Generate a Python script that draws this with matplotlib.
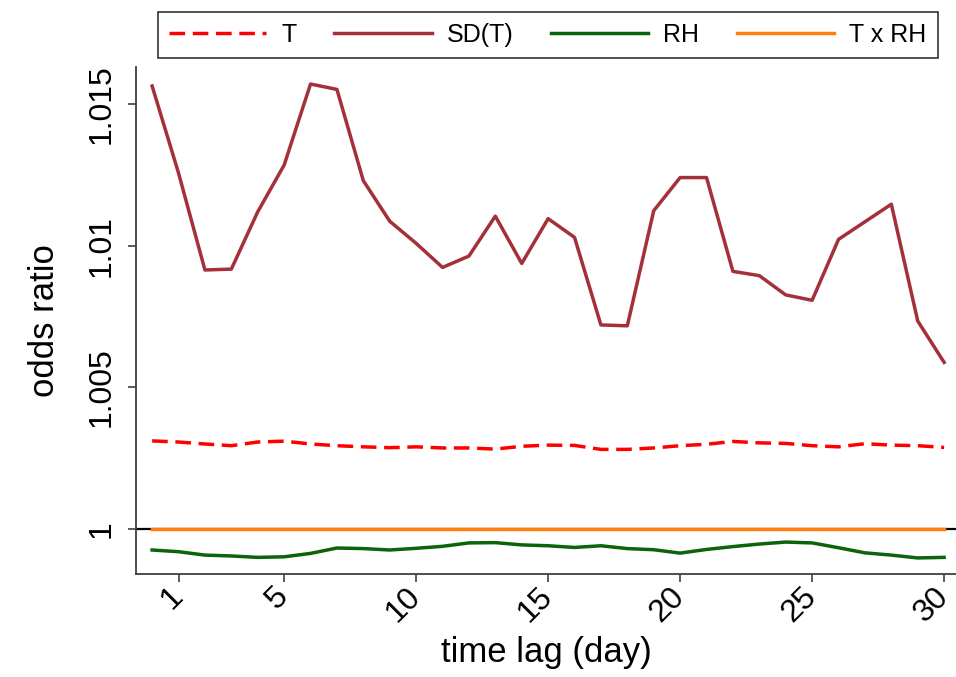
import matplotlib
matplotlib.use("Agg")
import matplotlib.pyplot as plt

plt.rcParams['font.family'] = ['Liberation Sans', 'DejaVu Sans']

lags = list(range(0, 31))
T = [1.00311, 1.00307, 1.00300, 1.00294, 1.00307, 1.00310, 1.00300, 1.00294, 1.00290, 1.00287,
     1.00290, 1.00286, 1.00286, 1.00282, 1.00292, 1.00296, 1.00295, 1.00281, 1.00281, 1.00286,
     1.00294, 1.00299, 1.00309, 1.00304, 1.00302, 1.00294, 1.00290, 1.00301, 1.00296, 1.00294,
     1.00288]
SD_T = [1.01563, 1.01256, 1.00914, 1.00917, 1.01119, 1.01284, 1.01570, 1.01551, 1.01229, 1.01086,
        1.01008, 1.00923, 1.00963, 1.01104, 1.00937, 1.01095, 1.01029, 1.00720, 1.00717, 1.01123,
        1.01240, 1.01240, 1.00909, 1.00894, 1.00826, 1.00807, 1.01022, 1.01084, 1.01146, 1.00734,
        1.00588]
RH = [0.99926, 0.99920, 0.99908, 0.99905, 0.99900, 0.99902, 0.99914, 0.99933, 0.99931, 0.99926,
      0.99932, 0.99939, 0.99951, 0.99952, 0.99944, 0.99941, 0.99935, 0.99941, 0.99931, 0.99927,
      0.99915, 0.99928, 0.99938, 0.99947, 0.99954, 0.99951, 0.99934, 0.99916, 0.99908, 0.99898,
      0.99900]
TxRH = [1.0] * 31

xticks = [1, 5, 10, 15, 20, 25, 30]
yticks = [1.0, 1.005, 1.01, 1.015]
ytick_labels = ["1", "1.005", "1.01", "1.015"]
series_labels = ["T", "SD(T)", "RH", "T x RH"]

fig = plt.figure(figsize=(9.56, 6.77), dpi=100)
ax = fig.add_axes([0.142, 0.152, 0.858, 0.749])

ax.axhline(1.0, color='black', lw=1.6, zorder=1)
l1, = ax.plot(lags, T, color='#ff0000', lw=2.5, linestyle=(0, (4.5, 2.2)), zorder=3)
l2, = ax.plot(lags, SD_T, color='#a3303a', lw=2.5, zorder=3)
l3, = ax.plot(lags, RH, color='#0a640a', lw=2.5, zorder=3)
l4, = ax.plot(lags, TxRH, color='#ff8010', lw=2.5, zorder=2)

ax.set_xlim(-0.62, 30.45)
ax.set_ylim(0.99841, 1.0163)

ax.set_xticks(xticks)
ax.set_xticklabels([str(x) for x in xticks], rotation=45, ha='right', va='center',
                   rotation_mode='anchor', fontsize=23)
ax.set_yticks(yticks)
ax.set_yticklabels(ytick_labels, rotation=90, va='center', fontsize=23)
ax.tick_params(axis='both', direction='out', length=6, width=1.2, color='#404040')
ax.tick_params(axis='y', pad=8)
ax.tick_params(axis='x', pad=7)

for s in ['top', 'right']:
    ax.spines[s].set_visible(False)
for s in ['left', 'bottom']:
    ax.spines[s].set_color('#404040')
    ax.spines[s].set_linewidth(1.3)

ax.set_xlabel("time lag (day)", fontsize=25, labelpad=6)
ax.set_ylabel("odds ratio", fontsize=25, labelpad=18)

leg = fig.legend([l1, l2, l3, l4], series_labels, loc='center', bbox_to_anchor=(0.573, 0.948),
                 ncol=4, fontsize=18, frameon=True, fancybox=False, edgecolor='black',
                 handlelength=3.9, handletextpad=0.6, columnspacing=1.5, borderpad=0.45,
                 borderaxespad=0)
leg.get_frame().set_linewidth(1.2)

fig.savefig("out.png", dpi=100)
